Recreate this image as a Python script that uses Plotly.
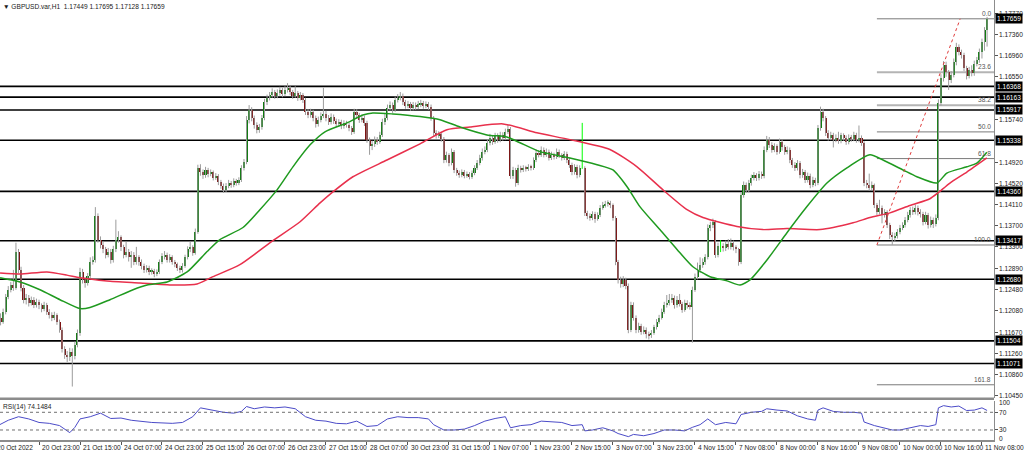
import plotly.graph_objects as go

# ---------------- data (GBPUSD H1) ----------------
opens = [
1.1219,1.1195,1.1187,1.1206,1.1235,1.1248,1.1257,1.1252,1.1321,1.1286,
1.1252,1.1229,1.1233,1.1223,1.1229,1.1219,1.1225,1.1218,1.1212,1.1219,
1.1206,1.1200,1.1195,1.1199,1.1187,1.1172,1.1134,1.1124,1.1119,1.1130,
1.1121,1.1143,1.1166,1.1282,1.1267,1.1261,1.1275,1.1301,1.1305,1.1389,
1.1344,1.1334,1.1325,1.1315,1.1321,1.1305,1.1325,1.1344,1.1348,1.1329,
1.1315,1.1321,1.1310,1.1315,1.1301,1.1310,1.1301,1.1294,1.1286,1.1290,
1.1282,1.1284,1.1278,1.1282,1.1301,1.1312,1.1315,1.1305,1.1310,1.1301,
1.1297,1.1290,1.1286,1.1294,1.1310,1.1325,1.1329,1.1319,1.1359,1.1481,
1.1473,1.1467,1.1477,1.1469,1.1473,1.1462,1.1466,1.1454,1.1447,1.1439,
1.1447,1.1452,1.1448,1.1456,1.1452,1.1458,1.1481,1.1492,1.1573,1.1592,
1.1577,1.1563,1.1554,1.1559,1.1577,1.1607,1.1615,1.1620,1.1626,1.1619,
1.1624,1.1630,1.1622,1.1630,1.1634,1.1626,1.1619,1.1624,1.1615,1.1620,
1.1611,1.1588,1.1582,1.1588,1.1577,1.1565,1.1573,1.1581,1.1584,1.1577,
1.1569,1.1579,1.1571,1.1565,1.1569,1.1561,1.1567,1.1563,1.1557,1.1550,
1.1588,1.1582,1.1573,1.1577,1.1567,1.1535,1.1522,1.1527,1.1535,1.1531,
1.1544,1.1569,1.1577,1.1596,1.1601,1.1592,1.1611,1.1615,1.1619,1.1607,
1.1600,1.1603,1.1596,1.1601,1.1598,1.1603,1.1605,1.1600,1.1603,1.1598,
1.1577,1.1548,1.1543,1.1546,1.1537,1.1496,1.1505,1.1490,1.1512,1.1477,
1.1471,1.1467,1.1473,1.1466,1.1469,1.1464,1.1471,1.1481,1.1490,1.1500,
1.1512,1.1516,1.1529,1.1539,1.1531,1.1543,1.1535,1.1544,1.1539,1.1550,
1.1556,1.1466,1.1477,1.1452,1.1481,1.1477,1.1481,1.1479,1.1483,1.1481,
1.1496,1.1510,1.1506,1.1516,1.1506,1.1512,1.1500,1.1506,1.1502,1.1512,
1.1505,1.1500,1.1508,1.1496,1.1487,1.1473,1.1483,1.1467,1.1481,1.1481,
1.1395,1.1389,1.1386,1.1393,1.1384,1.1391,1.1405,1.1410,1.1412,1.1414,
1.1410,1.1386,1.1301,1.1267,1.1259,1.1267,1.1256,1.1172,1.1219,1.1195,
1.1172,1.1178,1.1168,1.1172,1.1164,1.1161,1.1166,1.1176,1.1187,1.1195,
1.1206,1.1219,1.1223,1.1229,1.1233,1.1218,1.1229,1.1221,1.1210,1.1223,
1.1218,1.1216,1.1248,1.1273,1.1286,1.1296,1.1301,1.1310,1.1367,1.1372,
1.1378,1.1315,1.1332,1.1332,1.1327,1.1336,1.1330,1.1338,1.1329,1.1325,
1.1301,1.1429,1.1448,1.1439,1.1452,1.1462,1.1467,1.1462,1.1469,1.1466,
1.1516,1.1535,1.1525,1.1516,1.1522,1.1512,1.1531,1.1520,1.1512,1.1516,
1.1496,1.1487,1.1481,1.1490,1.1467,1.1473,1.1458,1.1466,1.1448,1.1458,
1.1452,1.1557,1.1588,1.1577,1.1548,1.1539,1.1544,1.1535,1.1539,1.1533,
1.1543,1.1539,1.1531,1.1539,1.1537,1.1544,1.1535,1.1539,1.1529,1.1452,
1.1448,1.1443,1.1448,1.1410,1.1397,1.1405,1.1391,1.1397,1.1372,1.1353,
1.1348,1.1351,1.1359,1.1367,1.1372,1.1382,1.1391,1.1401,1.1397,1.1405,
1.1397,1.1393,1.1378,1.1391,1.1372,1.1382,1.1374,1.1386,1.1605,1.1653,
1.1678,1.1664,1.1649,1.1659,1.1683,1.1712,1.1703,1.1697,1.1672,1.1657,
1.1668,1.1662,1.1680,1.1687,1.1703,1.1722,1.17449]

highs = [
1.1226,1.1203,1.1212,1.1240,1.1255,1.1263,1.1286,1.1338,1.1326,1.1292,
1.1257,1.1240,1.1238,1.1235,1.1234,1.1231,1.1229,1.1222,1.1225,1.1223,
1.1211,1.1205,1.1206,1.1203,1.1191,1.1176,1.1140,1.1131,1.1137,1.1136,
1.1149,1.1172,1.1290,1.1288,1.1272,1.1280,1.1310,1.1312,1.1406,1.1394,
1.1350,1.1340,1.1330,1.1328,1.1326,1.1332,1.1382,1.1360,1.1352,1.1334,
1.1340,1.1326,1.1322,1.1320,1.1330,1.1314,1.1306,1.1298,1.1295,1.1294,
1.1289,1.1288,1.1287,1.1306,1.1318,1.1322,1.1319,1.1316,1.1314,1.1305,
1.1300,1.1294,1.1299,1.1315,1.1331,1.1340,1.1333,1.1365,1.1487,1.1488,
1.1478,1.1483,1.1481,1.1478,1.1476,1.1471,1.1469,1.1458,1.1451,1.1452,
1.1458,1.1456,1.1461,1.1460,1.1463,1.1486,1.1498,1.1580,1.1601,1.1597,
1.1581,1.1568,1.1565,1.1582,1.1613,1.1621,1.1626,1.1633,1.1630,1.1631,
1.1636,1.1634,1.1637,1.1643,1.1638,1.1630,1.1637,1.1628,1.1626,1.1624,
1.1615,1.1593,1.1594,1.1592,1.1581,1.1579,1.1587,1.1634,1.1590,1.1582,
1.1585,1.1583,1.1575,1.1574,1.1573,1.1572,1.1571,1.1567,1.1561,1.1594,
1.1593,1.1586,1.1583,1.1581,1.1571,1.1539,1.1533,1.1541,1.1540,1.1550,
1.1575,1.1584,1.1602,1.1608,1.1606,1.1617,1.1622,1.1626,1.1623,1.1611,
1.1609,1.1607,1.1607,1.1606,1.1609,1.1611,1.1609,1.1608,1.1607,1.1602,
1.1580,1.1553,1.1551,1.1550,1.1540,1.1512,1.1509,1.1518,1.1515,1.1481,
1.1476,1.1478,1.1477,1.1474,1.1473,1.1476,1.1486,1.1496,1.1506,1.1518,
1.1522,1.1535,1.1546,1.1543,1.1548,1.1547,1.1550,1.1549,1.1556,1.1563,
1.1559,1.1483,1.1481,1.1487,1.1485,1.1486,1.1485,1.1488,1.1487,1.1501,
1.1516,1.1515,1.1522,1.1520,1.1518,1.1516,1.1512,1.1510,1.1518,1.1516,
1.1509,1.1513,1.1512,1.1500,1.1491,1.1488,1.1487,1.1486,1.1567,1.1484,
1.1399,1.1394,1.1398,1.1397,1.1396,1.1410,1.1416,1.1418,1.1419,1.1418,
1.1413,1.1389,1.1305,1.1273,1.1274,1.1271,1.1260,1.1225,1.1224,1.1199,
1.1185,1.1183,1.1178,1.1176,1.1168,1.1171,1.1181,1.1192,1.1200,1.1212,
1.1225,1.1238,1.1240,1.1240,1.1237,1.1236,1.1240,1.1225,1.1229,1.1228,
1.1224,1.1254,1.1279,1.1300,1.1310,1.1308,1.1316,1.1373,1.1378,1.1384,
1.1381,1.1338,1.1343,1.1337,1.1342,1.1345,1.1346,1.1342,1.1333,1.1328,
1.1434,1.1455,1.1453,1.1458,1.1468,1.1473,1.1471,1.1475,1.1474,1.1522,
1.1542,1.1540,1.1530,1.1528,1.1526,1.1537,1.1535,1.1525,1.1522,1.1520,
1.1500,1.1492,1.1496,1.1494,1.1479,1.1477,1.1472,1.1470,1.1464,1.1462,
1.1563,1.1598,1.1594,1.1580,1.1553,1.1550,1.1548,1.1545,1.1550,1.1548,
1.1547,1.1543,1.1545,1.1544,1.1550,1.1548,1.1562,1.1543,1.1532,1.1458,
1.1470,1.1455,1.1451,1.1414,1.1420,1.1409,1.1402,1.1400,1.1376,1.1358,
1.1357,1.1364,1.1372,1.1377,1.1387,1.1397,1.1406,1.1407,1.1411,1.1409,
1.1402,1.1397,1.1397,1.1395,1.1388,1.1386,1.1392,1.1612,1.1660,1.1685,
1.1684,1.1668,1.1666,1.1690,1.1720,1.1717,1.1707,1.1701,1.1676,1.1674,
1.1677,1.1686,1.1693,1.1709,1.1728,1.1750,1.17695]

lows = [
1.1188,1.1180,1.1183,1.1201,1.1230,1.1243,1.1246,1.1248,1.1280,1.1245,
1.1222,1.1220,1.1216,1.1218,1.1213,1.1214,1.1211,1.1205,1.1207,1.1200,
1.1193,1.1188,1.1190,1.1181,1.1166,1.1128,1.1116,1.1110,1.1112,1.1063,
1.1115,1.1138,1.1160,1.1260,1.1252,1.1256,1.1270,1.1296,1.1300,1.1338,
1.1327,1.1318,1.1308,1.1310,1.1298,1.1300,1.1320,1.1338,1.1322,1.1308,
1.1310,1.1302,1.1290,1.1295,1.1296,1.1294,1.1287,1.1280,1.1281,1.1276,
1.1277,1.1272,1.1274,1.1278,1.1297,1.1306,1.1300,1.1300,1.1296,1.1291,
1.1284,1.1280,1.1281,1.1290,1.1306,1.1320,1.1313,1.1315,1.1355,1.1466,
1.1460,1.1462,1.1463,1.1465,1.1457,1.1458,1.1448,1.1441,1.1433,1.1435,
1.1442,1.1443,1.1444,1.1447,1.1448,1.1454,1.1476,1.1488,1.1566,1.1570,
1.1556,1.1547,1.1548,1.1554,1.1572,1.1601,1.1610,1.1615,1.1613,1.1614,
1.1619,1.1616,1.1618,1.1625,1.1620,1.1613,1.1615,1.1609,1.1610,1.1605,
1.1582,1.1576,1.1577,1.1570,1.1558,1.1560,1.1568,1.1576,1.1570,1.1563,
1.1564,1.1565,1.1559,1.1560,1.1555,1.1556,1.1558,1.1551,1.1544,1.1546,
1.1576,1.1567,1.1568,1.1561,1.1529,1.1506,1.1515,1.1521,1.1525,1.1527,
1.1540,1.1563,1.1572,1.1591,1.1586,1.1588,1.1606,1.1610,1.1601,1.1594,
1.1595,1.1590,1.1591,1.1592,1.1593,1.1597,1.1594,1.1595,1.1592,1.1571,
1.1542,1.1537,1.1538,1.1531,1.1490,1.1491,1.1484,1.1486,1.1471,1.1466,
1.1462,1.1463,1.1461,1.1462,1.1459,1.1460,1.1467,1.1477,1.1486,1.1495,
1.1507,1.1511,1.1524,1.1525,1.1527,1.1529,1.1530,1.1533,1.1534,1.1546,
1.1460,1.1460,1.1445,1.1448,1.1472,1.1473,1.1474,1.1475,1.1476,1.1477,
1.1492,1.1501,1.1502,1.1501,1.1502,1.1495,1.1496,1.1497,1.1498,1.1500,
1.1495,1.1496,1.1490,1.1481,1.1467,1.1468,1.1461,1.1463,1.1479,1.1389,
1.1383,1.1380,1.1381,1.1376,1.1380,1.1387,1.1401,1.1405,1.1407,1.1404,
1.1380,1.1295,1.1260,1.1252,1.1253,1.1249,1.1165,1.1167,1.1189,1.1165,
1.1166,1.1162,1.1163,1.1155,1.1153,1.1156,1.1162,1.1172,1.1183,1.1191,
1.1202,1.1214,1.1218,1.1223,1.1212,1.1214,1.1216,1.1204,1.1206,1.1212,
1.1210,1.1147,1.1244,1.1268,1.1280,1.1290,1.1296,1.1306,1.1360,1.1366,
1.1309,1.1310,1.1320,1.1321,1.1322,1.1325,1.1325,1.1323,1.1318,1.1294,
1.1297,1.1424,1.1433,1.1434,1.1447,1.1457,1.1456,1.1457,1.1460,1.1461,
1.1511,1.1519,1.1510,1.1511,1.1506,1.1508,1.1514,1.1506,1.1507,1.1490,
1.1481,1.1475,1.1476,1.1461,1.1462,1.1452,1.1453,1.1442,1.1444,1.1446,
1.1448,1.1552,1.1570,1.1542,1.1533,1.1534,1.1520,1.1530,1.1527,1.1528,
1.1533,1.1525,1.1526,1.1531,1.1532,1.1529,1.1530,1.1523,1.1446,1.1442,
1.1437,1.1438,1.1404,1.1391,1.1392,1.1375,1.1386,1.1366,1.1345,1.1334,
1.1340,1.1346,1.1354,1.1362,1.1367,1.1377,1.1386,1.1391,1.1392,1.1390,
1.1386,1.1371,1.1373,1.1365,1.1367,1.1366,1.1369,1.1381,1.1600,1.1646,
1.1655,1.1630,1.1643,1.1654,1.1677,1.1696,1.1690,1.1666,1.1650,1.1652,
1.1656,1.1657,1.1675,1.1682,1.1690,1.1705,1.17128]

closes = [
1.1195,1.1187,1.1206,1.1235,1.1248,1.1257,1.1252,1.1321,1.1286,1.1252,
1.1229,1.1233,1.1223,1.1229,1.1219,1.1225,1.1218,1.1212,1.1219,1.1206,
1.1200,1.1195,1.1199,1.1187,1.1172,1.1134,1.1124,1.1119,1.1130,1.1121,
1.1143,1.1166,1.1282,1.1267,1.1261,1.1275,1.1301,1.1305,1.1389,1.1344,
1.1334,1.1325,1.1315,1.1321,1.1305,1.1325,1.1344,1.1348,1.1329,1.1315,
1.1321,1.1310,1.1315,1.1301,1.1310,1.1301,1.1294,1.1286,1.1290,1.1282,
1.1284,1.1278,1.1282,1.1301,1.1312,1.1315,1.1305,1.1310,1.1301,1.1297,
1.1290,1.1286,1.1294,1.1310,1.1325,1.1329,1.1319,1.1359,1.1481,1.1473,
1.1467,1.1477,1.1469,1.1473,1.1462,1.1466,1.1454,1.1447,1.1439,1.1447,
1.1452,1.1448,1.1456,1.1452,1.1458,1.1481,1.1492,1.1573,1.1592,1.1577,
1.1563,1.1554,1.1559,1.1577,1.1607,1.1615,1.1620,1.1626,1.1619,1.1624,
1.1630,1.1622,1.1630,1.1634,1.1626,1.1619,1.1624,1.1615,1.1620,1.1611,
1.1588,1.1582,1.1588,1.1577,1.1565,1.1573,1.1581,1.1584,1.1577,1.1569,
1.1579,1.1571,1.1565,1.1569,1.1561,1.1567,1.1563,1.1557,1.1550,1.1588,
1.1582,1.1573,1.1577,1.1567,1.1535,1.1522,1.1527,1.1535,1.1531,1.1544,
1.1569,1.1577,1.1596,1.1601,1.1592,1.1611,1.1615,1.1619,1.1607,1.1600,
1.1603,1.1596,1.1601,1.1598,1.1603,1.1605,1.1600,1.1603,1.1598,1.1577,
1.1548,1.1543,1.1546,1.1537,1.1496,1.1505,1.1490,1.1512,1.1477,1.1471,
1.1467,1.1473,1.1466,1.1469,1.1464,1.1471,1.1481,1.1490,1.1500,1.1512,
1.1516,1.1529,1.1539,1.1531,1.1543,1.1535,1.1544,1.1539,1.1550,1.1556,
1.1466,1.1477,1.1452,1.1481,1.1477,1.1481,1.1479,1.1483,1.1481,1.1496,
1.1510,1.1506,1.1516,1.1506,1.1512,1.1500,1.1506,1.1502,1.1512,1.1505,
1.1500,1.1508,1.1496,1.1487,1.1473,1.1483,1.1467,1.1481,1.1481,1.1395,
1.1389,1.1386,1.1393,1.1384,1.1391,1.1405,1.1410,1.1412,1.1414,1.1410,
1.1386,1.1301,1.1267,1.1259,1.1267,1.1256,1.1172,1.1219,1.1195,1.1172,
1.1178,1.1168,1.1172,1.1164,1.1161,1.1166,1.1176,1.1187,1.1195,1.1206,
1.1219,1.1223,1.1229,1.1233,1.1218,1.1229,1.1221,1.1210,1.1223,1.1218,
1.1216,1.1248,1.1273,1.1286,1.1296,1.1301,1.1310,1.1367,1.1372,1.1378,
1.1315,1.1332,1.1332,1.1327,1.1336,1.1330,1.1338,1.1329,1.1325,1.1301,
1.1429,1.1448,1.1439,1.1452,1.1462,1.1467,1.1462,1.1469,1.1466,1.1516,
1.1535,1.1525,1.1516,1.1522,1.1512,1.1531,1.1520,1.1512,1.1516,1.1496,
1.1487,1.1481,1.1490,1.1467,1.1473,1.1458,1.1466,1.1448,1.1458,1.1452,
1.1557,1.1588,1.1577,1.1548,1.1539,1.1544,1.1535,1.1539,1.1533,1.1543,
1.1539,1.1531,1.1539,1.1537,1.1544,1.1535,1.1539,1.1529,1.1452,1.1448,
1.1443,1.1448,1.1410,1.1397,1.1405,1.1391,1.1397,1.1372,1.1353,1.1348,
1.1351,1.1359,1.1367,1.1372,1.1382,1.1391,1.1401,1.1397,1.1405,1.1397,
1.1393,1.1378,1.1391,1.1372,1.1382,1.1374,1.1386,1.1605,1.1653,1.1678,
1.1664,1.1649,1.1659,1.1683,1.1712,1.1703,1.1697,1.1672,1.1657,1.1668,
1.1662,1.1680,1.1687,1.1703,1.1722,1.17449,1.17659]

assert len(opens) == len(highs) == len(lows) == len(closes), (len(opens), len(highs), len(lows), len(closes))

time_labels = ["20 Oct 2022", "20 Oct 23:00", "21 Oct 15:00", "24 Oct 07:00", "24 Oct 23:00",
               "25 Oct 15:00", "26 Oct 07:00", "26 Oct 23:00", "27 Oct 15:00", "28 Oct 07:00",
               "30 Oct 23:00", "31 Oct 15:00", "1 Nov 07:00", "1 Nov 23:00", "2 Nov 15:00",
               "3 Nov 07:00", "3 Nov 23:00", "4 Nov 15:00", "7 Nov 08:00", "8 Nov 00:00",
               "8 Nov 16:00", "9 Nov 08:00", "10 Nov 00:00", "10 Nov 16:00", "11 Nov 08:00"]
time_label_bars = [16 * k for k in range(len(time_labels))]

# moving averages (bar index, value)
ma_fast_bar = [0.8, 8.6, 16.4, 24.2, 32, 35.9, 43.7, 52.7, 58.2, 66, 73.8, 81.6, 86.6, 95.6, 102.2,
               108.9, 115.1, 121.8, 127.6, 136.2, 142.4, 146.3, 154.1, 164.7, 172.5, 180.3, 190.8,
               198.6, 203.7, 211.5, 223.2, 233.8, 240, 245.5, 250.5, 258.3, 265, 271.2, 277.9,
               284.5, 289.6, 293.5, 300.1, 307.9, 315.7, 323.5, 331.3, 340.3, 345.4, 353.2, 358.6,
               366.4, 370.3, 378.1, 382, 385.9]
ma_fast_val = [1.1271, 1.1263, 1.1248, 1.1229, 1.1212, 1.1214, 1.1229, 1.1248, 1.1257, 1.1263,
               1.1282, 1.1321, 1.1344, 1.1367, 1.1401, 1.1439, 1.1483, 1.1525, 1.1550, 1.1567,
               1.1582, 1.1586, 1.1584, 1.1579, 1.1573, 1.1559, 1.1544, 1.1540, 1.1529, 1.1512,
               1.1500, 1.1487, 1.1477, 1.1445, 1.1407, 1.1363, 1.1325, 1.1292, 1.1273, 1.1265,
               1.1257, 1.1267, 1.1305, 1.1357, 1.1407, 1.1452, 1.1481, 1.1506, 1.1496, 1.1477,
               1.1464, 1.1452, 1.1471, 1.1483, 1.1490, 1.1511]
ma_slow_bar = [0.8, 8.6, 19.1, 26.9, 32, 42.5, 55.4, 68.3, 77.7, 83.9, 94.4, 107.3, 117.9, 125.7,
               130.7, 138.5, 151.8, 164.7, 175.2, 184.2, 197.1, 210.3, 223.2, 238.8, 249.4, 259.5,
               268.9, 275.1, 288.4, 298.5, 307.9, 320.8, 333.7, 340.3, 348.1, 355.9, 363.7, 366.8,
               371.5, 378.1, 385.9]
ma_slow_val = [1.1280, 1.1278, 1.1282, 1.1276, 1.1271, 1.1265, 1.1261, 1.1257, 1.1259, 1.1273,
               1.1296, 1.1342, 1.1378, 1.1414, 1.1435, 1.1464, 1.1496, 1.1527, 1.1554, 1.1559,
               1.1565, 1.1548, 1.1535, 1.1516, 1.1483, 1.1439, 1.1401, 1.1386, 1.1369, 1.1363,
               1.1365, 1.1363, 1.1376, 1.1386, 1.1395, 1.1409, 1.1422, 1.1433, 1.1452, 1.1473,
               1.1500]

# RSI(14)
rsi_bar = [0, 4, 8, 12, 16, 20, 24, 26, 28, 30, 32, 36, 40, 44, 48, 52, 56, 60, 64, 68, 72, 76, 79,
           83, 88, 92, 95, 97, 100, 104, 108, 112, 116, 120, 124, 128, 132, 136, 140, 144, 148, 152,
           156, 160, 164, 168, 170, 174, 178, 182, 186, 190, 194, 198, 200, 204, 208, 212, 216, 220,
           224, 228, 229, 232, 236, 240, 242, 246, 248, 252, 256, 260, 264, 268, 271, 274, 277, 280,
           284, 288, 290, 294, 298, 300, 304, 308, 312, 316, 319, 320, 322, 326, 330, 334, 337, 338,
           342, 346, 349, 352, 356, 360, 363, 366, 367, 369, 372, 375, 378, 381, 384, 386]
rsi_val = [40, 52, 60, 55, 47, 45, 40, 32, 24, 36, 55, 60, 68, 56, 57, 52, 49, 47, 46, 45, 47, 60, 80,
           76, 70, 68, 72, 83, 78, 82, 80, 82, 78, 60, 52, 50, 45, 44, 50, 38, 40, 55, 60, 58, 58,
           55, 42, 30, 30, 32, 40, 50, 56, 60, 35, 40, 42, 50, 48, 47, 40, 42, 28, 30, 35, 28, 22,
           15, 20, 17, 22, 30, 30, 28, 36, 42, 55, 42, 47, 44, 65, 70, 72, 78, 75, 73, 62, 55, 52,
           75, 80, 72, 70, 70, 68, 48, 40, 35, 30, 30, 35, 40, 38, 42, 80, 85, 82, 84, 74, 75, 80,
           74.1484]

support_resistance = [1.16368, 1.16163, 1.15917, 1.15338, 1.14360, 1.13417, 1.12680, 1.11504, 1.11071]
price_tick_values = [1.17770, 1.17360, 1.16960, 1.16550, 1.15740, 1.14920, 1.14520, 1.14110,
                     1.13700, 1.13300, 1.12890, 1.12480, 1.12080, 1.11670, 1.11260, 1.10860, 1.10450]
current_price = 1.17659
fib_high = 1.17659
fib_low = 1.13336
fib_ratios = [0.0, 23.6, 38.2, 50.0, 61.8, 100.0, 161.8]
fib_start_bar = 343
fib_trend_end_bar = 375.5
rsi_levels = [70, 30]
title_text = "▼ GBPUSD.var,H1  1.17449 1.17695 1.17128 1.17659"
rsi_title = "RSI(14) 74.1484"

# ---------------- figure ----------------
W, H = 1024, 453
X_RANGE = [0.78, 388.7]
FONT = "Liberation Sans"
fig = go.Figure()

n = len(closes)
idx = list(range(n))
wx, wy, dx, dy = [], [], [], []
for i in idx:
    if opens[i] == closes[i]:
        dx += [i, i, None]; dy += [lows[i], highs[i], None]
    else:
        wx += [i, i, None]; wy += [lows[i], highs[i], None]
fig.add_trace(go.Scatter(x=wx, y=wy, mode="lines", line=dict(color="#9c9c9c", width=1),
                         hoverinfo="skip"))
fig.add_trace(go.Scatter(x=dx, y=dy, mode="lines", line=dict(color="#00ff00", width=1),
                         hoverinfo="skip"))
body_base = [min(o, c) for o, c in zip(opens, closes)]
body_len = [abs(c - o) for o, c in zip(opens, closes)]
body_col = ["#0c7a0c" if c > o else "#7c1414" for o, c in zip(opens, closes)]
fig.add_trace(go.Bar(x=idx, y=body_len, base=body_base, width=0.78,
                     marker=dict(color=body_col, line=dict(width=0)), hoverinfo="skip"))

fig.add_trace(go.Scatter(x=ma_slow_bar, y=ma_slow_val, mode="lines",
                         line=dict(color="#e8304c", width=1.5, shape="spline", smoothing=0.6)))
fig.add_trace(go.Scatter(x=ma_fast_bar, y=ma_fast_val, mode="lines",
                         line=dict(color="#1f9a1f", width=1.5, shape="spline", smoothing=0.6)))

fig.add_trace(go.Scatter(x=rsi_bar, y=rsi_val, mode="lines", yaxis="y2",
                         line=dict(color="#4b4bc8", width=1)))

shapes = []
for p in support_resistance:
    shapes.append(dict(type="line", xref="paper", x0=0, x1=1, yref="y", y0=p, y1=p,
                       line=dict(color="#000000", width=1.6), layer="below"))
fib_prices = [fib_high - r / 100.0 * (fib_high - fib_low) for r in fib_ratios]
for r, p in zip(fib_ratios, fib_prices):
    light = r in (23.6, 38.2)
    shapes.append(dict(type="line", xref="x", x0=fib_start_bar, x1=X_RANGE[1], yref="y", y0=p, y1=p,
                       line=dict(color="#b4b4b4" if light else "#7a7a7a", width=2 if light else 1),
                       layer="below"))
shapes.append(dict(type="line", xref="x", yref="y", x0=fib_start_bar, y0=fib_low,
                   x1=fib_trend_end_bar, y1=fib_high, line=dict(color="#e03c3c", width=1, dash="dot")))
for lv in rsi_levels:
    shapes.append(dict(type="line", xref="paper", x0=0, x1=1, yref="y2", y0=lv, y1=lv,
                       line=dict(color="#707070", width=1, dash="dot")))
# separator between the main window and the indicator window
shapes.append(dict(type="rect", xref="paper", yref="paper", x0=0, x1=1, y0=0.0909, y1=0.0966,
                   fillcolor="#8c8c8c", line=dict(width=0)))

ann = []
small = dict(family=FONT, size=6.6, color="#1a1a1a")
for p in price_tick_values:
    ann.append(dict(x=1, xref="paper", xanchor="left", xshift=3, y=p, yref="y", yanchor="middle",
                    text=f"{p:.5f}", showarrow=False, font=small))
for p in support_resistance + [current_price]:
    ann.append(dict(x=1, xref="paper", xanchor="left", xshift=1, y=p, yref="y", yanchor="middle",
                    text=f"{p:.5f}", showarrow=False, bgcolor="#000000", borderpad=1,
                    font=dict(family=FONT, size=6.6, color="#ffffff")))
for r, p in zip(fib_ratios, fib_prices):
    ann.append(dict(x=1, xref="paper", xanchor="right", xshift=-1, y=p, yref="y", yanchor="bottom",
                    text=f"{r:.1f}", showarrow=False, font=dict(family=FONT, size=6.6, color="#555555")))
for b, t in zip(time_label_bars, time_labels):
    if b < X_RANGE[0]:
        # first label sits at the very left edge (partly cut off)
        ann.append(dict(x=0, xref="paper", xanchor="left", xshift=-5, y=0, yref="paper",
                        yanchor="top", yshift=-2, text=t, showarrow=False, font=small))
    else:
        ann.append(dict(x=b, xref="x", xanchor="left", xshift=1, y=0, yref="paper",
                        yanchor="top", yshift=-2, text=t, showarrow=False, font=small))
for lv in rsi_levels:
    ann.append(dict(x=1, xref="paper", xanchor="left", xshift=3, y=lv, yref="y2", yanchor="middle",
                    text=str(lv), showarrow=False, font=small))
ann.append(dict(x=1, xref="paper", xanchor="left", xshift=3, y=0.0841, yref="paper", yanchor="middle",
                text="100", showarrow=False, font=small))
ann.append(dict(x=1, xref="paper", xanchor="left", xshift=3, y=0.0045, yref="paper", yanchor="middle",
                text="0", showarrow=False, font=small))
ann.append(dict(x=0, xref="paper", xanchor="left", xshift=1, y=1, yref="paper", yanchor="top",
                yshift=-1, text=title_text, showarrow=False, font=small))
ann.append(dict(x=0, xref="paper", xanchor="left", xshift=1, y=0.0886, yref="paper", yanchor="top",
                text=rsi_title, showarrow=False, font=small))

fig.update_layout(
    width=W, height=H, margin=dict(l=0, r=30, t=0, b=13, pad=0),
    paper_bgcolor="white", plot_bgcolor="white", showlegend=False, bargap=0,
    shapes=shapes, annotations=ann,
    xaxis=dict(range=X_RANGE, domain=[0, 1], anchor="y2", showgrid=False, zeroline=False,
               showticklabels=False, ticks="outside", ticklen=3, tickcolor="#555555",
               tickvals=time_label_bars, showline=True, linecolor="#8c8c8c", linewidth=1.5,
               fixedrange=True),
    yaxis=dict(domain=[0.09545, 1], range=[1.104114, 1.180185], side="right", anchor="x",
               showgrid=False, zeroline=False, showticklabels=False, ticks="outside", ticklen=3,
               tickcolor="#555555", tickvals=price_tick_values, showline=True, linecolor="#8c8c8c",
               fixedrange=True),
    yaxis2=dict(domain=[0, 0.08864], range=[7.4, 95.5], side="right", anchor="x",
                showgrid=False, zeroline=False, showticklabels=False, ticks="outside", ticklen=3,
                tickcolor="#555555", tickvals=[70, 30], showline=True, linecolor="#8c8c8c",
                fixedrange=True),
)

fig.write_html("out.html", config={"displayModeBar": False, "responsive": False},
               post_script="document.body.style.margin='0';document.body.style.overflow='hidden';")
